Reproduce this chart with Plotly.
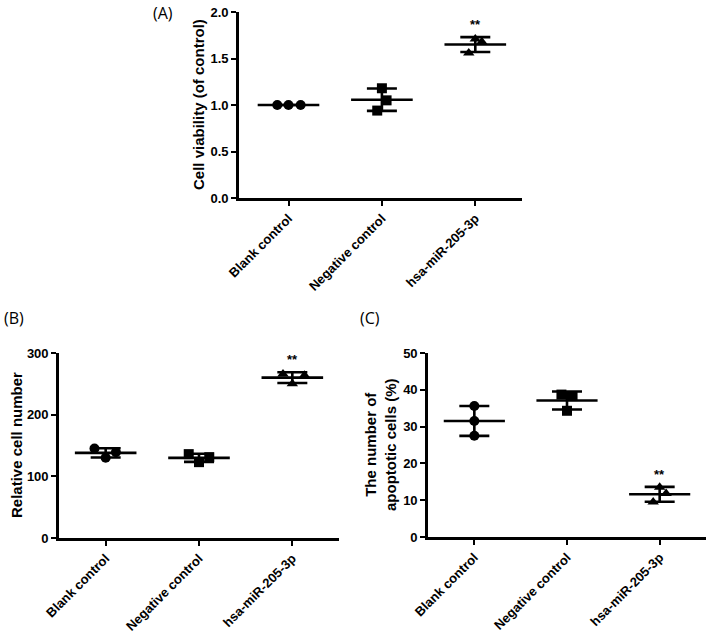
import numpy as np
import plotly.graph_objects as go

# ---------------- data ----------------
categories = ["Blank control", "Negative control", "hsa-miR-205-3p"]

# Panel A: cell viability (of control)
viab_blank = [1.00, 1.00, 1.00]
viab_neg = [1.18, 1.05, 0.94]
viab_mir = [1.71, 1.68, 1.56]

# Panel B: relative cell number
num_blank = [145, 130, 139]
num_neg = [136, 123, 131]
num_mir = [266, 250, 264]

# Panel C: apoptotic cells (%)
apo_blank = [35.6, 31.5, 27.5]
apo_neg = [38.7, 38.3, 34.3]
apo_mir = [13.5, 11.8, 9.5]

sig_labels = ["", "", "**"]

# ---------------- style ----------------
W, H = 709, 634


def px(x):
    return x / W


def py(y):
    return 1 - y / H


symbols = ["circle", "square", "triangle-up"]
# horizontal scatter offsets of the replicate points (in category units)
jitter_A = [[-0.12, 0.0, 0.13], [0.0, 0.05, -0.05], [0.0, 0.07, -0.07]]
jitter_B = [[-0.12, 0.0, 0.11], [-0.11, 0.0, 0.11], [-0.10, 0.0, 0.13]]
jitter_C = [[0.0, 0.0, 0.0], [-0.06, 0.06, 0.0], [0.0, 0.07, -0.07]]
MEAN_HALF = 0.33
LW = 2.6
FAM = "Liberation Sans, Arial"
BOLD = dict(family=FAM, size=13, color="black", weight="bold")

fig = go.Figure()


def add_panel(groups, jitters, xref, yref):
    for i, (vals, jit) in enumerate(zip(groups, jitters)):
        vals = np.array(vals, dtype=float)
        m = vals.mean()
        sd = vals.std(ddof=1)
        # mean line
        fig.add_trace(go.Scatter(x=[i - MEAN_HALF, i + MEAN_HALF], y=[m, m], mode="lines",
                                 line=dict(color="black", width=LW), xaxis=xref, yaxis=yref,
                                 showlegend=False, hoverinfo="skip"))
        # SD error bar
        fig.add_trace(go.Scatter(x=[i], y=[m], mode="markers", marker=dict(size=0.1, color="black"),
                                 error_y=dict(type="data", array=[sd], visible=True, color="black",
                                              thickness=LW, width=15),
                                 xaxis=xref, yaxis=yref, showlegend=False, hoverinfo="skip"))
        # replicate points
        fig.add_trace(go.Scatter(x=[i + j for j in jit], y=list(vals), mode="markers",
                                 marker=dict(symbol=symbols[i], size=10, color="black"),
                                 xaxis=xref, yaxis=yref, showlegend=False))
        if sig_labels[i]:
            fig.add_annotation(x=i, y=m + sd, xref=xref, yref=yref, text=sig_labels[i],
                               showarrow=False, xanchor="center", yanchor="bottom", yshift=3,
                               font=dict(family=FAM, size=13, color="black", weight="bold"))


add_panel([viab_blank, viab_neg, viab_mir], jitter_A, "x", "y")
add_panel([num_blank, num_neg, num_mir], jitter_B, "x2", "y2")
add_panel([apo_blank, apo_neg, apo_mir], jitter_C, "x3", "y3")


def xax(domain, anchor, rng):
    return dict(domain=domain, anchor=anchor, range=rng, tickmode="array",
                tickvals=[0, 1, 2], ticktext=categories, tickangle=-45,
                showline=True, linecolor="black", linewidth=LW, ticks="outside",
                ticklen=5, tickwidth=2, tickcolor="black", showgrid=False, zeroline=False,
                tickfont=dict(family=FAM, size=13, color="black", weight="bold"),
                automargin=False, fixedrange=True)


def yax(domain, anchor, rng, dtick, fmt):
    return dict(domain=domain, anchor=anchor, range=rng, dtick=dtick, tick0=0, tickformat=fmt,
                showline=True, linecolor="black", linewidth=LW, ticks="outside",
                ticklen=5, tickwidth=2, tickcolor="black", showgrid=False, zeroline=False,
                ticklabelstandoff=0,
                tickfont=BOLD, automargin=False, fixedrange=True)


fig.update_layout(
    width=W, height=H, margin=dict(l=0, r=0, t=0, b=0),
    paper_bgcolor="white", plot_bgcolor="white", showlegend=False,
    xaxis=xax([px(239), px(522)], "y", [-0.53, 2.5]),
    yaxis=yax([py(198), py(12)], "x", [0, 2.0], 0.5, ".1f"),
    xaxis2=xax([px(59), px(339)], "y2", [-0.5, 2.5]),
    yaxis2=yax([py(538), py(353)], "x2", [0, 300], 100, "d"),
    xaxis3=xax([px(428), px(706)], "y3", [-0.5, 2.5]),
    yaxis3=yax([py(537), py(353)], "x3", [0, 50], 10, "d"),
)

# axis titles
title_font = dict(family=FAM, size=15, color="black", weight="bold")
for txt, x, y in [("Cell viability (of control)", 199, 105),
                  ("Relative cell number", 16, 445),
                  ("The number of<br>apoptotic cells (%)", 380, 445)]:
    fig.add_annotation(text=txt, x=px(x), y=py(y), xref="paper", yref="paper",
                       xanchor="center", yanchor="middle",
                       textangle=-90, showarrow=False, font=title_font)

# panel labels
pl_font = dict(family="Open Sans, Noto Sans", size=16, color="black")
for txt, x, y in [("(A)", 163, 13), ("(B)", 14, 318), ("(C)", 370, 318)]:
    fig.add_annotation(text=txt, x=px(x), y=py(y), xref="paper", yref="paper",
                       xanchor="center", yanchor="middle", showarrow=False, font=pl_font)

fig.write_html("out.html", config={"displayModeBar": False},
               post_script="document.body.style.margin='0px';")
